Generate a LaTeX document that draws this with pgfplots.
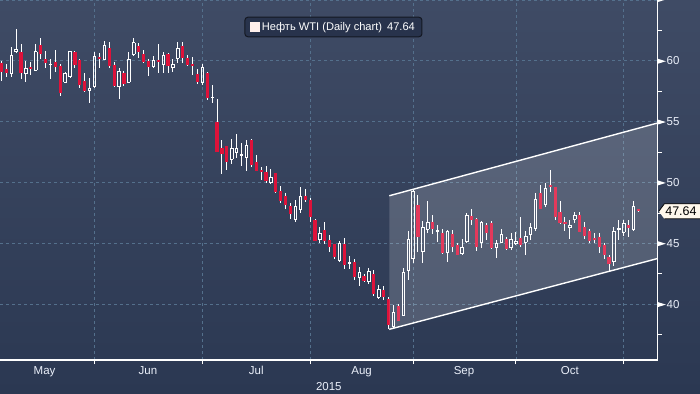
\documentclass[border=0pt]{standalone}
\usepackage{pgfplots}
\pgfplotsset{compat=1.18}
\usepackage{pgfplotstable}
\usepackage{fontspec}
\setmainfont{Liberation Sans}
\definecolor{bgtop}{RGB}{63,75,101}
\definecolor{bgbot}{RGB}{43,56,82}
\definecolor{candlered}{RGB}{222,18,58}
\definecolor{gridc}{RGB}{84,112,140}
\definecolor{legfill}{RGB}{40,51,76}
\definecolor{legdraw}{RGB}{20,24,34}
\definecolor{tagfill}{RGB}{255,248,236}
\definecolor{labc}{RGB}{235,240,250}
\definecolor{sqc}{RGB}{255,240,236}

% Down (red) candles: day index (0 = 1 Jun 2015), open, high, low, close
\pgfplotstableread{
d o h l c
-19 59.83 60.00 58.35 59.09
-18 59.34 59.75 58.68 59.01
-15 60.74 61.39 58.52 59.01
-13 59.50 59.91 58.84 59.34
-11 61.31 61.89 60.16 60.57
-10 60.16 60.82 59.42 59.83
-8 59.91 60.90 59.09 59.50
-7 59.58 59.75 57.12 57.37
-4 60.74 60.82 59.42 59.67
-3 60.08 60.16 57.78 58.02
-2 58.35 59.01 57.45 57.53
1 60.33 60.65 59.42 60.16
3 61.06 61.56 59.42 59.58
4 59.67 59.91 57.86 57.94
6 59.01 59.17 57.94 58.11
9 61.23 61.48 60.24 60.74
10 60.57 60.90 59.83 59.91
11 60.00 60.16 58.76 59.50
13 60.08 61.39 59.01 59.91
15 60.57 60.65 59.01 59.58
18 61.23 61.56 59.83 60.24
19 60.24 60.49 59.58 59.67
20 59.75 60.33 58.84 59.58
21 58.93 59.34 58.11 58.27
23 59.01 59.09 56.79 56.96
25 54.98 56.87 52.52 52.52
26 52.84 53.50 50.71 52.35
27 53.01 53.01 51.04 51.69
32 53.50 53.58 51.28 51.45
33 51.69 52.27 50.95 50.95
34 51.04 51.28 50.21 50.87
35 50.87 51.37 49.97 50.13
37 50.79 50.79 49.15 49.23
38 49.31 49.72 48.32 48.49
39 48.90 49.15 47.83 48.16
40 48.08 48.32 47.01 47.42
43 48.90 49.48 48.41 48.57
44 48.57 48.74 46.76 47.17
45 46.93 47.01 45.20 45.20
47 46.10 46.76 44.95 45.20
48 45.28 45.69 44.30 44.71
49 44.95 44.95 43.72 43.89
51 44.95 45.45 42.90 43.23
53 43.48 43.72 41.99 42.24
55 42.32 42.49 41.83 41.91
57 42.49 42.82 40.68 40.84
59 41.17 41.50 40.35 40.60
60 40.43 40.60 37.97 38.30
62 39.86 40.02 38.62 38.62
66 48.16 48.98 44.30 45.53
69 46.76 47.34 45.78 46.19
71 45.86 46.19 44.13 44.21
73 45.78 46.10 44.30 44.71
74 44.87 45.04 44.05 44.05
77 47.26 47.83 46.52 46.93
78 47.01 47.09 44.38 44.71
80 46.52 46.68 45.28 45.86
81 46.68 46.85 44.54 44.63
84 45.36 45.53 44.46 44.54
87 45.45 47.17 44.71 44.87
91 49.15 49.80 47.83 47.83
93 49.80 51.04 49.23 49.64
94 49.64 49.64 46.93 47.17
95 47.58 48.49 46.60 46.68
96 46.76 47.17 46.02 46.68
99 47.34 47.58 45.94 45.94
100 46.35 46.76 45.36 45.61
101 46.02 46.19 45.04 45.20
102 45.45 45.86 45.04 45.28
103 45.53 45.86 44.21 44.71
104 44.87 45.04 43.72 44.05
105 43.89 44.05 42.73 43.31
109 46.52 46.93 45.53 46.27
111 47.80 47.86 47.60 47.64
}\downcandles

% Up (hollow) candles
\pgfplotstableread{
d o h l c
-17 59.01 61.15 58.68 60.49
-16 60.74 62.63 60.65 60.98
-14 59.01 60.00 58.27 59.42
-12 59.26 61.39 59.17 60.74
-9 59.71 60.16 58.52 59.75
-6 58.27 59.09 58.19 59.01
-5 58.76 60.82 58.68 60.74
-1 57.61 58.60 56.54 57.78
0 57.94 60.74 57.78 60.33
2 60.16 61.64 60.12 61.31
5 57.94 59.42 56.87 59.17
7 58.27 60.74 58.27 60.16
8 60.57 61.89 60.49 61.48
12 59.58 60.41 59.50 60.00
14 59.75 60.74 59.01 60.49
16 59.50 60.16 59.09 59.75
17 60.24 61.56 59.83 61.06
22 58.27 59.75 58.02 59.50
24 56.96 58.02 56.54 57.04
28 51.94 53.58 51.53 52.84
29 52.52 54.00 52.00 52.84
30 52.27 53.26 51.37 52.30
31 52.10 53.50 50.95 53.09
36 50.05 51.12 49.89 50.46
41 47.01 48.57 46.76 48.08
42 47.83 49.64 47.50 48.90
46 45.36 46.35 45.04 45.86
50 43.64 45.20 43.48 45.04
52 43.40 43.97 42.90 43.43
54 42.24 43.06 41.50 42.65
56 41.91 42.98 41.67 42.73
58 40.60 41.58 40.43 41.25
61 38.21 39.94 38.13 39.36
63 39.12 42.98 39.04 42.65
64 42.82 46.02 41.99 45.36
65 43.80 49.48 43.39 49.31
67 44.38 46.85 43.39 46.35
68 46.19 48.49 45.86 46.76
70 46.02 46.52 45.12 46.05
72 44.30 46.10 43.48 46.02
75 44.21 45.36 44.13 44.71
76 45.20 47.50 45.12 47.26
79 45.12 46.85 44.63 46.76
82 44.71 45.28 43.80 45.04
83 45.12 46.19 45.04 45.78
85 44.63 45.86 44.46 45.36
86 45.04 45.94 44.95 45.20
88 45.12 46.02 44.05 45.61
89 45.78 46.68 45.28 46.35
90 46.27 49.15 46.02 48.65
92 48.24 49.97 47.99 49.56
97 46.35 46.93 45.36 46.52
98 47.01 47.58 46.68 47.34
106 43.48 46.35 43.15 46.02
107 46.19 46.93 45.28 46.27
108 45.94 46.93 45.61 46.68
110 46.19 48.49 46.02 48.00
}\upcandles

\pgfplotsset{
  vbar/.style 2 args={draw=none, mark=none, forget plot,
    error bars/.cd, y dir=both, y explicit, error mark=none,
    error bar style={solid, draw=#1, line width=#2}},
  hbar/.style={draw=none, mark=none, forget plot,
    error bars/.cd, x dir=both, x fixed=0.33, error mark=none,
    error bar style={solid, draw=white, line width=0.9bp}},
}

\newcommand{\tri}{\tikz[baseline=-0.6ex]\fill[white] (0,-2.5bp) -- (8bp,0) -- (0,2.5bp) -- cycle;}

\begin{document}
\begin{tikzpicture}
\path[use as bounding box] (0,0) rectangle (700bp,394bp);
\fill[top color=bgtop, bottom color=bgbot] (0,0) rectangle (700bp,394bp);
\begin{axis}[
  at={(0,34bp)}, anchor=south west,
  scale only axis, width=657.6bp, height=360bp,
  xmin=-19.3, xmax=114.9, ymin=35.42, ymax=65.01,
  clip=false,
  axis x line*=bottom, axis y line*=right,
  axis line style={white, line width=1.2bp},
  xtick={0,22,44,65,86,108}, xticklabels={},
  ytick={40,45,50,55,60},
  extra y ticks={65},
  extra y tick style={yticklabel={\tri}, grid=major},
  minor ytick={37.5,42.5,47.5,52.5,57.5,62.5},
  tick align=outside, major tick length=4bp, minor tick length=4bp,
  tick style={white, line width=1bp},
  grid=major,
  major grid style={gridc, dash pattern=on 3bp off 3bp, line width=0.9bp},
  /pgf/number format/assume math mode=true,
  yticklabel pos=right,
  yticklabel={\tri\hspace{0.8bp}\pgfmathprintnumber{\tick}},
  yticklabel style={anchor=west, inner sep=0pt, xshift=-4bp, text=labc,
    font=\fontsize{11.5bp}{13bp}\selectfont},
  legend style={at={(0.507,0.925)}, anchor=center, fill=legfill, draw=legdraw,
    rounded corners=3bp, text=white, line width=1bp,
    font=\fontsize{11.1bp}{12.5bp}\selectfont,
    inner xsep=5bp, inner ysep=3bp},
]
% wicks of red candles (full range; bodies cover the middle)
\addplot[vbar={white}{1bp}]
  table[x=d, y expr={(\thisrow{h}+\thisrow{l})/2}, y error expr={(\thisrow{h}-\thisrow{l})/2}] {\downcandles};
% red bodies
\addplot[vbar={candlered}{3.2bp}]
  table[x=d, y expr={(\thisrow{o}+\thisrow{c})/2}, y error expr={max(abs(\thisrow{o}-\thisrow{c})/2,0.045)}] {\downcandles};
% up candles: upper and lower wicks
\addplot[vbar={white}{1bp}]
  table[x=d, y expr={(\thisrow{h}+\thisrow{c})/2}, y error expr={(\thisrow{h}-\thisrow{c})/2}] {\upcandles};
\addplot[vbar={white}{1bp}]
  table[x=d, y expr={(\thisrow{o}+\thisrow{l})/2}, y error expr={(\thisrow{o}-\thisrow{l})/2}] {\upcandles};
% up candles: hollow body edges
\addplot[vbar={white}{0.9bp}]
  table[x expr={\thisrow{d}-0.25}, y expr={(\thisrow{o}+\thisrow{c})/2}, y error expr={(\thisrow{c}-\thisrow{o})/2}] {\upcandles};
\addplot[vbar={white}{0.9bp}]
  table[x expr={\thisrow{d}+0.25}, y expr={(\thisrow{o}+\thisrow{c})/2}, y error expr={(\thisrow{c}-\thisrow{o})/2}] {\upcandles};
\addplot[hbar] table[x=d, y=o] {\upcandles};
\addplot[hbar] table[x=d, y=c] {\upcandles};
% trend channel
\addplot[draw=none, fill=white, fill opacity=0.17, forget plot]
  coordinates {(60.14,37.94) (114.9,43.76) (114.9,54.90) (60.14,48.92)} -- cycle;
\addplot[white, line width=1.4bp, forget plot] coordinates {(60.14,48.92) (114.9,54.90)};
\addplot[white, line width=1.4bp, forget plot] coordinates {(60.14,37.94) (114.9,43.76)};
\addlegendimage{legend image code/.code={\fill[sqc, sharp corners] (0bp,-4.5bp) rectangle (9bp,4.5bp);}}
\addlegendentry{Нефть WTI (Daily chart)\hspace{5bp}47.64}
% month labels
\foreach \m/\xx in {May/-10.2, Jun/10.9, Jul/33.0, Aug/54.5, Sep/75.4, Oct/97.0}{
  \edef\tmp{\noexpand\node[anchor=base, text=labc, inner sep=0pt, font=\noexpand\fontsize{11.5bp}{13bp}\noexpand\selectfont] at (axis cs:\xx,35.42) [yshift=-14.5bp] {\m};}\tmp
}
\node[anchor=base, text=labc, inner sep=0pt, font=\fontsize{11.5bp}{13bp}\selectfont] at (axis cs:47.8,35.42) [yshift=-30.3bp] {2015};
\coordinate (tagpt) at (axis cs:114.9,47.64);
\end{axis}
% last price tag
\fill[tagfill] ([xshift=1.2bp]tagpt) -- ++(5.5bp,7.5bp) -- ++(40bp,0) -- ++(0,-15bp) -- ++(-40bp,0) -- cycle;
\draw[black, line width=0.8bp] ([xshift=1.2bp]tagpt) -- ++(5.5bp,7.5bp) -- ++(40bp,0) ++(0,-15bp) -- ++(-40bp,0) -- cycle;
\node[anchor=west, inner sep=0pt, text=black, font=\fontsize{12.5bp}{14bp}\selectfont] at ([xshift=7.5bp]tagpt) {47.64};
\end{tikzpicture}
\end{document}
